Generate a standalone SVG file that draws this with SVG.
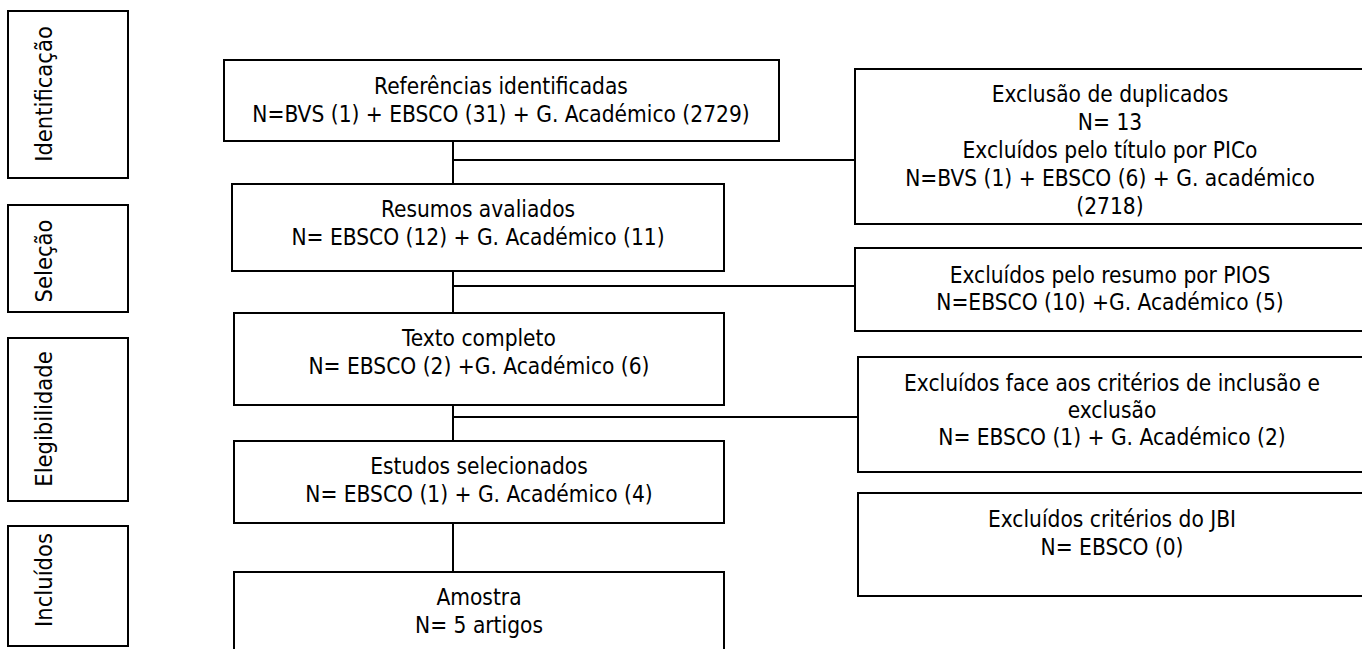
<svg xmlns="http://www.w3.org/2000/svg" width="1362" height="649" viewBox="0 0 1362 649">
  <style>
    .box { fill: #ffffff; stroke: #000000; stroke-width: 2; }
    .conn { fill: none; stroke: #000000; stroke-width: 2; }
    .t { font-family: 'DejaVu Sans Condensed', 'DejaVu Sans', sans-serif; font-stretch: condensed; font-size: 22.5px; fill: #000000; text-anchor: middle; }
    .ph { font-family: 'DejaVu Sans Condensed', 'DejaVu Sans', sans-serif; font-stretch: condensed; font-size: 23.5px; fill: #000000; text-anchor: middle; }
  </style>
  <defs>
    <clipPath id="clipR1">
      <rect x="856" y="70" width="510" height="153"/>
    </clipPath>
  </defs>
  <rect x="0" y="0" width="1362" height="649" fill="#ffffff"/>

  <g id="connectors">
    <line class="conn" x1="453" y1="141" x2="453" y2="184"/>
    <line class="conn" x1="453" y1="271" x2="453" y2="313"/>
    <line class="conn" x1="453" y1="405" x2="453" y2="441"/>
    <line class="conn" x1="453" y1="523" x2="453" y2="572"/>
    <line class="conn" x1="453" y1="160" x2="855" y2="160"/>
    <line class="conn" x1="453" y1="286" x2="855" y2="286"/>
    <line class="conn" x1="453" y1="417" x2="858" y2="417"/>
  </g>

  <g id="phase-identificacao">
    <rect class="box" x="8" y="11" width="120" height="167"/>
    <text class="ph" transform="translate(52,94) rotate(-90)">Identificação</text>
  </g>
  <g id="phase-selecao">
    <rect class="box" x="8" y="205" width="120" height="107"/>
    <text class="ph" transform="translate(52,261) rotate(-90)">Seleção</text>
  </g>
  <g id="phase-elegibilidade">
    <rect class="box" x="8" y="338" width="120" height="163"/>
    <text class="ph" transform="translate(52,419) rotate(-90)">Elegibilidade</text>
  </g>
  <g id="phase-incluidos">
    <rect class="box" x="8" y="526" width="120" height="120"/>
    <text class="ph" transform="translate(52,580) rotate(-90)">Incluídos</text>
  </g>

  <g id="node-referencias">
    <rect class="box" x="224" y="60" width="555" height="81"/>
    <text class="t" x="501" y="94">Referências identificadas</text>
    <text class="t" x="501" y="121.5">N=BVS (1) + EBSCO (31) + G. Académico (2729)</text>
  </g>
  <g id="node-resumos">
    <rect class="box" x="232" y="184" width="492" height="87"/>
    <text class="t" x="478" y="217">Resumos avaliados</text>
    <text class="t" x="478" y="244.5">N= EBSCO (12) + G. Académico (11)</text>
  </g>
  <g id="node-texto">
    <rect class="box" x="234" y="313" width="490" height="92"/>
    <text class="t" x="479" y="346">Texto completo</text>
    <text class="t" x="479" y="373.5">N= EBSCO (2) +G. Académico (6)</text>
  </g>
  <g id="node-estudos">
    <rect class="box" x="234" y="441" width="490" height="82"/>
    <text class="t" x="479" y="474">Estudos selecionados</text>
    <text class="t" x="479" y="501.5">N= EBSCO (1) + G. Académico (4)</text>
  </g>
  <g id="node-amostra">
    <rect class="box" x="234" y="572" width="490" height="90"/>
    <text class="t" x="479" y="605">Amostra</text>
    <text class="t" x="479" y="632.5">N= 5 artigos</text>
  </g>

  <g id="node-exclusao-duplicados">
    <rect class="box" x="855" y="69" width="512" height="155"/>
    <g clip-path="url(#clipR1)">
      <text class="t" x="1110" y="101.5">Exclusão de duplicados</text>
      <text class="t" x="1110" y="129.5">N= 13</text>
      <text class="t" x="1110" y="157.5">Excluídos pelo título por PICo</text>
      <text class="t" x="1110" y="185.5">N=BVS (1) + EBSCO (6) + G. académico</text>
      <text class="t" x="1110" y="213.5">(2718)</text>
    </g>
  </g>
  <g id="node-excluidos-resumo">
    <rect class="box" x="855" y="248" width="512" height="83"/>
    <text class="t" x="1110" y="282.5">Excluídos pelo resumo por PIOS</text>
    <text class="t" x="1110" y="310">N=EBSCO (10) +G. Académico (5)</text>
  </g>
  <g id="node-excluidos-criterios">
    <rect class="box" x="858" y="357" width="510" height="115"/>
    <text class="t" x="1112" y="391">Excluídos face aos critérios de inclusão e</text>
    <text class="t" x="1112" y="418">exclusão</text>
    <text class="t" x="1112" y="445">N= EBSCO (1) + G. Académico (2)</text>
  </g>
  <g id="node-excluidos-jbi">
    <rect class="box" x="858" y="493" width="510" height="103"/>
    <text class="t" x="1112" y="527">Excluídos critérios do JBI</text>
    <text class="t" x="1112" y="554.5">N= EBSCO (0)</text>
  </g>
</svg>
